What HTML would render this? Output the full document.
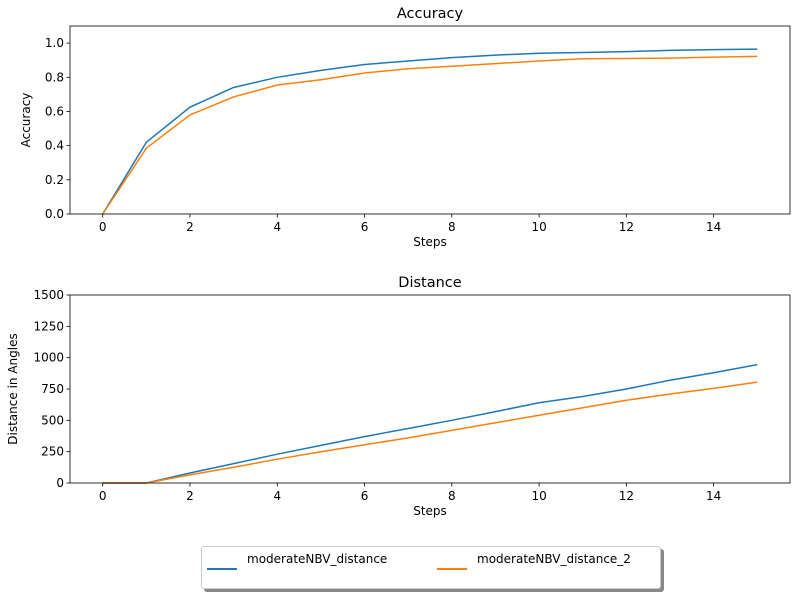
<!DOCTYPE html>
<html><head><meta charset="utf-8"><style>
body{margin:0;background:#fff;font-family:"Liberation Sans","DejaVu Sans",sans-serif}
svg text{font-family:"DejaVu Sans","Liberation Sans",sans-serif}
</style></head><body>
<svg id="c" width="800" height="600" xmlns="http://www.w3.org/2000/svg"></svg>
<script>
const steps=[0,1,2,3,4,5,6,7,8,9,10,11,12,13,14,15];
const accBlue=[0,0.42,0.625,0.74,0.80,0.84,0.875,0.895,0.915,0.93,0.94,0.945,0.95,0.957,0.962,0.965];
const accOrange=[0,0.385,0.58,0.685,0.755,0.785,0.825,0.85,0.865,0.88,0.895,0.908,0.91,0.912,0.918,0.922];
const distBlue=[0,0,80,155,230,300,370,435,500,570,640,690,750,820,880,945];
const distOrange=[0,0,65,125,190,250,305,360,420,480,540,600,660,710,755,805];
const xTicks=[0,2,4,6,8,10,12,14];
const accTicks=[0,0.2,0.4,0.6,0.8,1.0];
const distTicks=[0,250,500,750,1000,1250,1500];
const svg=document.getElementById('c');
const NS='http://www.w3.org/2000/svg';
function mk(t,a,p){const e=document.createElementNS(NS,t);for(const k in a)e.setAttribute(k,a[k]);(p||svg).appendChild(e);return e;}
function panel(name,top,bottom,ymax,ticks,fmt,title,ylabel,ylx,series){
  const L=70,R=790;
  const g=mk('g',{});
  
  
  const xs=v=>L+(v+0.75)/16.5*(R-L);
  const ys=v=>bottom-v/ymax*(bottom-top);
  series.forEach(s=>{
    const pts=steps.map((x,i)=>xs(x).toFixed(1)+','+ys(s.d[i]).toFixed(1)).join(' ');
    const l=mk('polyline',{points:pts,fill:'none',stroke:s.c,'stroke-width':1.5},g);
    
    
  });
  const fr=mk('rect',{x:L,y:top,width:R-L,height:bottom-top,fill:'none',stroke:'#000','stroke-width':0.8},g);
  
  
  xTicks.forEach(v=>{const x=xs(v);
    mk('line',{x1:x,x2:x,y1:bottom,y2:bottom+3.5,stroke:'#000','stroke-width':0.8},g);
    const t=mk('text',{x:x,y:bottom+17,'font-size':12,'text-anchor':'middle'},g);t.textContent=v;
    
    });
  ticks.forEach(v=>{const y=ys(v);
    mk('line',{x1:L,x2:L-3.5,y1:y,y2:y,stroke:'#000','stroke-width':0.8},g);
    const t=mk('text',{x:L-6,y:y+4,'font-size':12,'text-anchor':'end'},g);t.textContent=fmt(v);
    
    });
  const ti=mk('text',{x:(L+R)/2,y:top-8,'font-size':14.5,'text-anchor':'middle'},g);ti.textContent=title;
  
  
  const xl=mk('text',{x:(L+R)/2,y:bottom+32,'font-size':12,'text-anchor':'middle'},g);xl.textContent='Steps';
  
  
  const yc=(top+bottom)/2;
  const yl=mk('text',{x:0,y:0,'font-size':12,'text-anchor':'middle',transform:`translate(${ylx},${yc}) rotate(-90)`},g);yl.textContent=ylabel;
  
  
}
panel('accuracy-panel',26,214,1.1,accTicks,v=>v.toFixed(1),'Accuracy','Accuracy',30,
 [{d:accBlue,c:'#1f77b4',n:'accuracy-line-blue'},{d:accOrange,c:'#ff7f0e',n:'accuracy-line-orange'}]);
panel('distance-panel',295,483,1500,distTicks,v=>String(v),'Distance','Distance in Angles',17,
 [{d:distBlue,c:'#1f77b4',n:'distance-line-blue'},{d:distOrange,c:'#ff7f0e',n:'distance-line-orange'}]);
</script>
<div style="position:absolute;left:201px;top:546px;width:458px;height:41px;border:1px solid #ccc;background:#fff;box-shadow:3px 3px 0 #888;border-radius:3px;font-family:'DejaVu Sans','Liberation Sans',sans-serif;font-size:12px">
 <div style="position:absolute;left:5px;top:5px">
  <span style="position:absolute;left:0;top:16px;width:30px;height:2px;background:#1f77b4"></span>
  <span style="position:absolute;left:40px;top:0;white-space:nowrap">moderateNBV_distance</span></div>
 <div style="position:absolute;left:235px;top:5px">
  <span style="position:absolute;left:0;top:16px;width:30px;height:2px;background:#ff7f0e"></span>
  <span style="position:absolute;left:40px;top:0;white-space:nowrap">moderateNBV_distance_2</span></div>
</div>
</body></html>
